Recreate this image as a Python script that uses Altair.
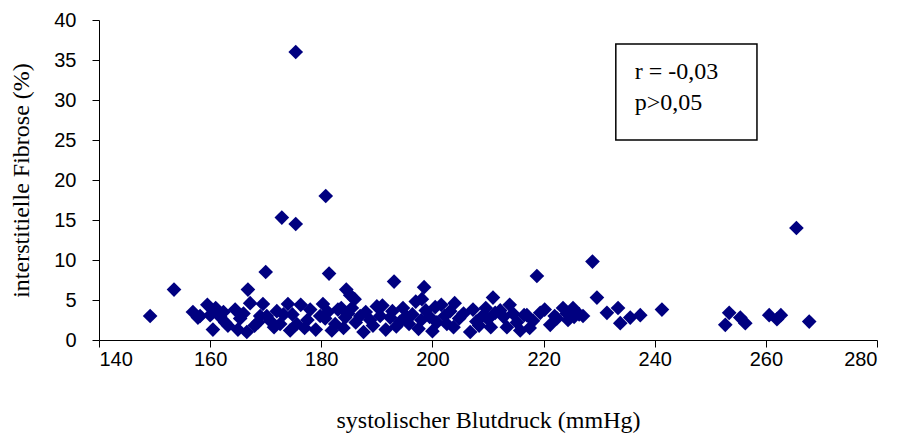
import altair as alt
import pandas as pd

# ---- data (systolic BP in mmHg, interstitial fibrosis in %) ----
outlier_bp = [149.2, 153.5, 175.4, 180.8, 172.9, 175.4, 265.5, 228.8, 218.8, 170.0,
              181.4, 193.1, 198.5, 166.8, 184.5, 185.2, 186.0, 198.1, 210.9, 229.6]
outlier_fib = [3.0, 6.3, 36.0, 18.0, 15.3, 14.5, 14.0, 9.8, 8.0, 8.5,
               8.3, 7.3, 6.6, 6.3, 6.3, 5.6, 5.1, 5.1, 5.3, 5.3]

right_bp = [231.4, 233.4, 233.8, 235.6, 237.4, 241.3, 252.7, 253.4, 255.4, 256.3,
            260.6, 262.0, 262.7, 267.8]
right_fib = [3.4, 4.0, 2.1, 2.8, 3.1, 3.8, 1.9, 3.4, 2.8, 2.1,
             3.1, 2.6, 3.1, 2.3]

band_bp = [
    156.9, 157.8, 158.2,
    159.5, 160.0, 160.5, 161.0, 161.8, 162.4, 162.7, 163.2,
    164.5, 165.0, 165.4, 166.0, 166.6, 167.2, 168.6, 169.0, 168.0,
    169.5, 170.2, 170.8, 171.5, 172.0, 172.6, 173.2, 174.0, 174.4,
    174.8, 175.6, 176.3, 177.0, 177.5, 178.0, 179.0, 179.8,
    180.3, 180.7, 181.2, 181.9, 182.5, 183.0, 183.6, 184.0, 184.3, 184.8,
    185.5, 186.2, 187.0, 187.6, 188.0, 188.8, 189.3, 190.0, 190.6,
    191.0, 191.6, 192.4, 192.8, 193.5, 194.2, 194.7, 195.3, 195.8,
    196.4, 197.0, 197.5, 198.0, 198.8, 199.5, 200.0, 200.5, 200.8,
    201.6, 202.2, 202.6, 203.2, 203.8, 204.0, 204.8, 205.6, 206.8,
    207.3, 207.9, 208.4, 209.0, 209.6, 210.0, 210.5, 211.3,
    212.2, 212.8, 213.4, 213.9, 214.5, 215.2, 215.8, 216.5,
    217.0, 217.5, 218.1, 219.4, 220.2, 221.2, 222.0, 222.4, 223.5, 224.2,
    224.4, 225.3, 225.5, 227.1, 226.4,
]
band_fib = [
    3.5, 2.8, 3.0,
    4.4, 3.1, 1.3, 4.0, 2.9, 3.5, 2.2, 1.8,
    3.8, 1.3, 2.7, 3.3, 1.0, 4.6, 2.2, 3.0, 1.8,
    4.5, 3.0, 2.4, 1.6, 3.6, 2.0, 3.2, 4.5, 1.2,
    3.2, 2.0, 4.4, 1.5, 2.5, 3.8, 1.3, 3.0,
    4.5, 2.7, 3.5, 1.2, 2.0, 3.8, 4.0, 1.5, 2.8, 3.3,
    4.0, 2.2, 3.0, 1.0, 3.5, 2.5, 1.8, 4.2, 3.0,
    4.3, 1.3, 2.8, 3.6, 1.7, 2.3, 4.0, 3.0, 2.0,
    3.2, 4.8, 1.4, 2.5, 3.7, 2.9, 1.1, 4.1, 2.2,
    4.4, 3.0, 2.0, 3.6, 1.6, 4.6, 2.7, 3.3, 1.0,
    3.8, 2.3, 1.8, 3.0, 4.0, 2.6, 1.6, 3.4,
    3.7, 2.9, 1.6, 4.4, 3.3, 2.2, 1.2, 3.1,
    3.1, 1.5, 2.4, 3.4, 3.8, 1.9, 3.0, 2.7, 4.0, 3.3,
    2.5, 4.0, 2.9, 3.0, 3.2,
]

x_ticks = [140, 160, 180, 200, 220, 240, 260, 280]
y_ticks = [0, 5, 10, 15, 20, 25, 30, 35, 40]

stats_lines = ["r = -0,03", "p>0,05"]
# annotation box in data units
box = {"x": 233.0, "x2": 258.4, "y": 25.0, "y2": 37.0}
text_x = 236.4
text_y = [33.5, 29.6]

df = pd.DataFrame({
    "bp": outlier_bp + right_bp + band_bp,
    "fib": outlier_fib + right_fib + band_fib,
})

xscale = alt.Scale(domain=[140, 280], nice=False, zero=False)
yscale = alt.Scale(domain=[0, 40], nice=False)

label_font = "Liberation Sans"
title_font = "Liberation Serif"

x_axis = alt.Axis(
    values=x_ticks, title="systolischer Blutdruck (mmHg)", grid=False,
    domainColor="#000000", tickColor="#000000", tickSize=7,
    labelFont=label_font, labelFontSize=20, labelColor="#000000", labelPadding=2,
    labelOverlap=False,
    titleFont=title_font, titleFontSize=24, titleFontWeight="normal",
    titleColor="#000000", titlePadding=39,
)
y_axis = alt.Axis(
    values=y_ticks, title="interstitielle Fibrose (%)", grid=False,
    domainColor="#000000", tickColor="#000000", tickSize=7,
    labelFont=label_font, labelFontSize=20, labelColor="#000000", labelPadding=16,
    labelOverlap=False, labelFlush=False,
    titleFont=title_font, titleFontSize=24, titleFontWeight="normal",
    titleColor="#000000", titlePadding=20,
)

points = alt.Chart(df).mark_point(
    shape="diamond", filled=True, size=215, color="#000080", opacity=1
).encode(
    x=alt.X("bp:Q", scale=xscale, axis=x_axis),
    y=alt.Y("fib:Q", scale=yscale, axis=y_axis),
)

box_df = pd.DataFrame([box])
rect = alt.Chart(box_df).mark_rect(
    fill="white", stroke="#000000", strokeWidth=1.5
).encode(
    x=alt.X("x:Q", scale=xscale, axis=x_axis), x2="x2:Q",
    y=alt.Y("y:Q", scale=yscale, axis=y_axis), y2="y2:Q",
)

txt_df = pd.DataFrame({"label": stats_lines, "x": [text_x] * 2, "y": text_y})
text = alt.Chart(txt_df).mark_text(
    align="left", baseline="middle", font=title_font, fontSize=24, color="#000000"
).encode(
    x=alt.X("x:Q", scale=xscale, axis=x_axis),
    y=alt.Y("y:Q", scale=yscale, axis=y_axis),
    text="label:N",
)

chart = alt.layer(points, rect, text).properties(
    width=778, height=320,
    autosize=alt.AutoSizeParams(type="none"),
    padding={"left": 91, "top": 12, "right": 16, "bottom": 98},
    background="white",
).configure_view(stroke=None)

chart.save("out.html", embed_options={"renderer": "svg", "actions": False})
